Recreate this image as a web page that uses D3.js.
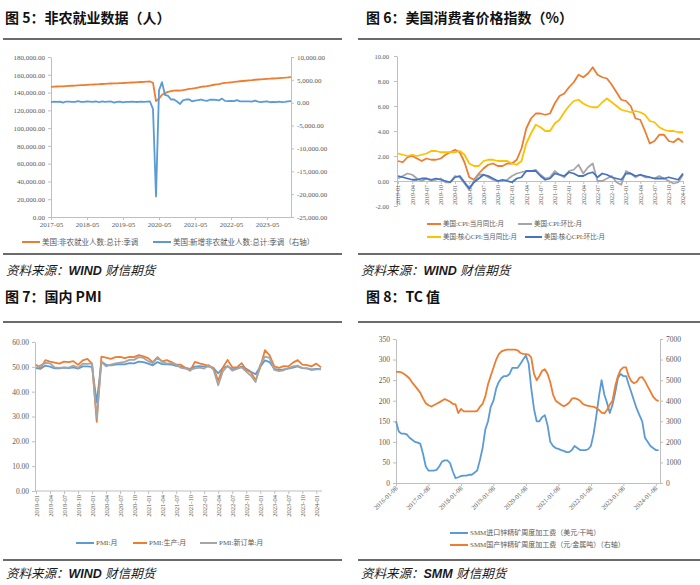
<!DOCTYPE html>
<html>
<head>
<meta charset="utf-8">
<script src="https://cdn.jsdelivr.net/npm/d3@7"></script>
<style>
body { margin: 0; background: #fff; }
svg text { font-family: "Liberation Serif", "Noto Sans CJK SC", serif; }
.title { font-family: "Noto Sans CJK SC", sans-serif; font-weight: bold; font-size: 14px; fill: #111; }
.legend { fill: #595959; }
</style>
</head>
<body>
<script>
(function(){

    // ---- 图5 非农 ----
    var nfpTicks = ["2017-05", "2018-05", "2019-05", "2020-05", "2021-05", "2022-05", "2023-05"];
    var payrolls = [
        146400, 146600, 146800, 147000, 147050, 147250, 147450, 147650,
        147850, 148100, 148300, 148450, 148700, 148900, 149050, 149300, 149400, 149600, 149750, 149950,
        150200, 150250, 150400, 150650, 150750, 150950, 151100, 151300, 151450, 151650, 151850, 151950,
        152200, 152450, 151050, 130450, 133100, 137600, 139300, 140800, 141500, 142200, 142450, 142200,
        142700, 143400, 144100, 144400, 144900, 145600, 146300, 146800, 147200, 147900, 148500, 149100,
        149500, 150300, 150800, 151100, 151500, 151900, 152400, 152700, 153000, 153300, 153600, 153900,
        154400, 154700, 154900, 155200, 155500, 155600, 155800, 156000, 156300, 156500, 156700, 157000,
        157400
    ];
    var newJobs = [
        150, 230, 190, 220, 20, 260, 220, 180,
        180, 330, 180, 170, 270, 240, 180, 280, 100, 280, 180, 230,
        270, 10, 190, 250, 80, 180, 170, 210, 190, 160, 250, 180,
        230, 270, -1400, -20500, 2700, 4500, 1700, 1500, 700, 700, 260, -270,
        500, 700, 750, 300, 450, 550, 700, 500, 400, 650, 650, 600,
        500, 900, 400, 350, 400, 350, 550, 300, 300, 300, 300, 250,
        450, 250, 150, 250, 300, 100, 200, 150, 250, 150, 200, 300,
        350
    ];

    // ---- 图6 CPI ----
    var cpiYoY = [
        1.6, 1.5, 1.9, 2.0, 1.8, 1.6, 1.8, 1.7, 1.7, 1.8, 2.1, 2.3,
        2.5, 2.3, 1.5, 0.3, 0.1, 0.6, 1.0, 1.3, 1.4, 1.2, 1.2, 1.4,
        1.4, 1.7, 2.6, 4.2, 5.0, 5.4, 5.4, 5.3, 5.4, 6.2, 6.8, 7.0,
        7.5, 7.9, 8.5, 8.3, 8.6, 9.1, 8.5, 8.3, 8.2, 7.7, 7.1, 6.5,
        6.4, 6.0, 5.0, 4.9, 4.0, 3.0, 3.2, 3.7, 3.7, 3.2, 3.1, 3.4,
        3.1
    ];
    var cpiMoM = [
        0.2, 0.4, 0.6, 0.5, 0.2, 0.0, 0.2, 0.0, 0.1, 0.2, -0.1, -0.1,
        0.4, 0.3, -0.2, -0.7, 0.0, 0.5, 0.5, 0.3, 0.1, 0.0, 0.0, 0.1,
        0.4, 0.6, 0.7, 0.8, 0.8, 0.9, 0.5, 0.2, 0.3, 0.8, 0.5, 0.3,
        0.8, 0.9, 1.3, 0.6, 1.1, 1.4, 0.0, 0.0, 0.2, 0.4, -0.1, -0.3,
        0.8, 0.6, 0.3, 0.5, 0.3, 0.3, 0.2, 0.4, 0.2, 0.0, -0.2, -0.1,
        0.5
    ];
    var coreYoY = [
        2.2, 2.1, 2.0, 2.1, 2.0, 2.1, 2.2, 2.4, 2.4, 2.3, 2.3, 2.3,
        2.3, 2.4, 2.1, 1.4, 1.2, 1.2, 1.6, 1.7, 1.7, 1.6, 1.6, 1.6,
        1.4, 1.3, 1.6, 3.0, 3.8, 4.5, 4.3, 4.0, 4.0, 4.6, 4.9, 5.5,
        6.0, 6.4, 6.5, 6.2, 6.0, 5.9, 5.9, 6.3, 6.6, 6.3, 6.0, 5.7,
        5.6, 5.5, 5.6, 5.5, 5.3, 4.8, 4.7, 4.3, 4.1, 4.0, 4.0, 3.9,
        3.9
    ];
    var coreMoM = [
        0.4, 0.3, 0.2, 0.1, 0.1, 0.2, 0.2, 0.1, 0.2, 0.1, 0.0, -0.1,
        0.3, 0.4, -0.1, -0.6, -0.1, 0.2, 0.5, 0.4, 0.2, 0.0, 0.1, 0.0,
        -0.1, 0.2, 0.3, 0.8, 0.8, 0.8, 0.4, 0.1, 0.2, 0.6, 0.5, 0.4,
        0.7, 0.6, 0.4, 0.4, 0.6, 0.7, 0.3, 0.6, 0.5, 0.3, 0.2, 0.1,
        0.6, 0.6, 0.4, 0.5, 0.4, 0.3, 0.2, 0.2, 0.2, 0.3, 0.2, 0.1,
        0.6
    ];

    // ---- 图7 PMI ----
    var pmi = [
        49.5, 49.2, 50.5, 50.1, 49.4, 49.4, 49.7, 49.5, 49.8, 49.3, 50.2, 50.2,
        50.0, 35.7, 52.0, 50.8, 50.6, 50.9, 51.1, 51.0, 51.5, 51.4, 52.1, 51.9,
        51.3, 50.6, 51.9, 51.1, 51.0, 50.9, 50.4, 50.1, 49.6, 49.2, 50.1, 50.3,
        50.1, 50.2, 49.5, 47.4, 49.6, 50.2, 49.0, 49.4, 50.1, 49.2, 48.0, 47.0,
        50.1, 52.6, 51.9, 49.2, 48.8, 49.0, 49.3, 49.7, 50.2, 49.5, 49.4, 49.0,
        49.2, 49.1
    ];
    var pmiProduction = [
        50.9, 49.5, 52.7, 52.1, 51.7, 51.3, 52.1, 51.9, 52.3, 50.8, 52.6, 53.2,
        51.3, 27.8, 54.1, 53.7, 53.2, 53.9, 54.0, 53.5, 54.0, 53.9, 54.7, 54.2,
        53.5, 51.9, 53.9, 52.2, 52.7, 51.9, 50.9, 50.9, 49.5, 48.4, 52.0, 51.4,
        50.9, 50.4, 49.5, 44.4, 49.7, 52.8, 49.8, 49.8, 51.5, 48.7, 47.8, 44.6,
        49.8, 56.7, 54.6, 50.2, 49.6, 50.3, 50.2, 51.7, 52.7, 50.9, 50.7, 50.2,
        51.3, 49.8
    ];
    var pmiNewOrders = [
        49.6, 50.6, 51.6, 51.4, 49.8, 49.6, 49.8, 49.7, 50.5, 49.6, 51.3, 51.2,
        51.4, 29.3, 52.0, 50.2, 50.9, 51.4, 51.7, 52.0, 52.8, 52.8, 53.9, 53.6,
        52.3, 51.5, 53.6, 52.0, 51.3, 51.5, 50.9, 49.6, 49.3, 48.8, 49.4, 49.7,
        49.3, 50.7, 48.8, 42.6, 48.2, 50.4, 48.5, 49.2, 49.8, 48.1, 46.4, 43.9,
        50.9, 54.1, 53.6, 48.8, 48.3, 48.6, 49.5, 50.2, 50.5, 49.5, 49.4, 48.7,
        49.0, 49.0
    ];

    // ---- 图8 TC ----
    var tcTicks = ["2016-01-08", "2017-01-08", "2018-01-08", "2019-01-08", "2020-01-08",
                   "2021-01-08", "2022-01-08", "2023-01-08", "2024-01-08"];
    var importTC = [
        150, 125, 120, 120, 118, 110, 105, 100, 98, 95, 70, 40,
        30, 30, 30, 32, 40, 52, 55, 55, 48, 28, 12, 14,
        17, 18, 18, 20, 20, 25, 30, 55, 85, 130, 150, 185,
        200, 230, 245, 255, 260, 260, 265, 280, 280, 280, 290, 300,
        310, 290, 230, 180, 150, 150, 160, 165, 140, 100, 90, 85,
        83, 80, 78, 75, 75, 80, 90, 85, 80, 80, 80, 82,
        90, 120, 160, 210, 250, 215, 195, 170, 190, 220, 255, 265,
        260, 260, 240, 220, 200, 180, 165, 150, 110, 100, 90, 85,
        80, 80
    ];
    var domesticTC = [
        5400, 5400, 5380, 5300, 5200, 5080, 4880, 4720, 4550, 4380, 4100, 3880,
        3780, 3720, 3780, 3850, 3920, 4000, 4080, 4020, 3950, 3850, 3820, 3400,
        3600, 3480, 3480, 3480, 3480, 3480, 3500, 3700, 3850, 4200, 4800, 5200,
        5600, 6000, 6250, 6400, 6450, 6480, 6480, 6480, 6480, 6450, 6320, 6280,
        6260, 6240, 6100, 5300, 5000, 5200, 5450, 5530, 5300, 4900, 4300, 4000,
        3900, 3800, 3730, 3800, 3900, 4100, 4130, 4080, 4000, 3850, 3780, 3750,
        3720, 3700, 3650, 3550, 3420, 3380, 3550, 3800, 4000, 4700, 5200, 5500,
        5620, 5620, 5200, 4950, 4850, 4920, 5120, 5150, 4950, 4700, 4450, 4200,
        4050, 3980
    ];

    var orange = "#ED7D31", blue = "#5B9BD5", gray = "#A5A5A5",
        yellow = "#FFC000", darkBlue = "#4472C4", axisColor = "#bfbfbf";

    var loc = d3.formatLocale({decimal: ".", thousands: ",", grouping: [3], currency: ["", ""], minus: "-"});
    var fmtComma2 = loc.format(",.2f"),
        fmtFixed2 = loc.format(".2f"),
        fmtInt = loc.format("d");

    var parseMonth = d3.timeParse("%Y-%m"),
        parseDay = d3.timeParse("%Y-%m-%d"),
        fmtMonth = d3.timeFormat("%Y-%m");

    function monthRange(start, count) {
        var s = parseMonth(start);
        return d3.range(count).map(function(i) {
            return fmtMonth(d3.timeMonth.offset(s, i));
        });
    }

    var svg = d3.select("body")
        .append("svg")
        .attr("width", 700)
        .attr("height", 585);

    window.onload = draw();

    function draw() {
        drawFrame(5, 3, 342, "图 5：非农就业数据（人）", 18, 39, 254, 270, "WIND");
        drawFrame(366, 358, 700, "图 6：美国消费者价格指数（%）", 18, 39, 254, 270, "WIND");
        drawFrame(5, 3, 342, "图 7：国内 PMI", 297, 322, 560, 573, "WIND");
        drawFrame(366, 358, 700, "图 8：TC 值", 297, 322, 560, 573, "SMM");

        drawPayrolls();
        drawCpi();
        drawPmi();
        drawTc();
    }

    function drawFrame(tx, x1, x2, title, ty, rule1, rule2, sy, src) {
        svg.append("text")
            .attr("class", "title")
            .attr("x", tx)
            .attr("y", ty + 5)
            .text(title);

        [rule1, rule2].forEach(function(ry) {
            svg.append("line")
                .attr("x1", x1).attr("x2", x2)
                .attr("y1", ry).attr("y2", ry)
                .attr("stroke", "#3a3a3a")
                .attr("stroke-width", 1.5);
        });

        var t = svg.append("text")
            .attr("x", x1 + 3)
            .attr("y", sy + 5)
            .style("font-size", "12.5px")
            .attr("fill", "#1a1a1a");
        t.append("tspan")
            .style("font-family", "'Noto Sans CJK SC', sans-serif")
            .style("font-style", "italic")
            .text("资料来源：");
        t.append("tspan")
            .style("font-family", "'Liberation Sans', sans-serif")
            .style("font-style", "italic")
            .style("font-weight", "bold")
            .text(src + " ");
        t.append("tspan")
            .style("font-family", "'Noto Sans CJK SC', sans-serif")
            .style("font-style", "italic")
            .text("财信期货");
    }

    function styleAxis(g, size) {
        g.select(".domain").attr("stroke", axisColor);
        g.selectAll(".tick line").attr("stroke", axisColor);
        g.selectAll(".tick text")
            .attr("fill", "#595959")
            .style("font-size", size + "px");
    }

    function legendItem(x, y, len, color, label, size) {
        svg.append("line")
            .attr("x1", x).attr("x2", x + len)
            .attr("y1", y).attr("y2", y)
            .attr("stroke", color)
            .attr("stroke-width", 2);
        svg.append("text")
            .attr("class", "legend")
            .attr("x", x + len + 2)
            .attr("y", y)
            .attr("dy", "0.35em")
            .style("font-size", size + "px")
            .text(label);
    }

    function addLine(values, x, cats, y, color) {
        var line = d3.line()
            .x(function(d, i) { return x(cats[i]); })
            .y(function(d) { return y(d); });
        svg.append("path")
            .datum(values)
            .attr("fill", "none")
            .attr("stroke", color)
            .attr("stroke-width", 1.8)
            .attr("stroke-linejoin", "round")
            .attr("d", line);
    }

    function drawPayrolls() {
        var left = 51, right = 291, top = 57, bottom = 217;
        var months = monthRange("2017-05", payrolls.length);

        var x = d3.scalePoint().domain(months).range([left, right]);
        var yL = d3.scaleLinear().domain([0, 180000]).range([bottom, top]);
        var yR = d3.scaleLinear().domain([-25000, 10000]).range([bottom, top]);

        var gx = svg.append("g")
            .attr("transform", "translate(0," + bottom + ")")
            .call(d3.axisBottom(x).tickValues(nfpTicks).tickSize(3).tickSizeOuter(0).tickPadding(2));
        styleAxis(gx, 7);

        var gl = svg.append("g")
            .attr("transform", "translate(" + left + ",0)")
            .call(d3.axisLeft(yL).tickValues(d3.range(0, 180001, 20000)).tickFormat(fmtComma2)
                .tickSize(3).tickSizeOuter(0).tickPadding(3));
        styleAxis(gl, 7);

        var gr = svg.append("g")
            .attr("transform", "translate(" + right + ",0)")
            .call(d3.axisRight(yR).tickValues(d3.range(-25000, 10001, 5000)).tickFormat(fmtComma2)
                .tickSize(3).tickSizeOuter(0).tickPadding(3));
        styleAxis(gr, 7);

        addLine(payrolls, x, months, yL, orange);
        addLine(newJobs, x, months, yR, blue);

        legendItem(22, 242, 18, orange, "美国:非农就业人数:总计:季调", 7.5);
        legendItem(153, 242, 18, blue, "美国:新增非农就业人数:总计:季调（右轴）", 7.5);
    }

    function drawCpi() {
        var left = 397, right = 683, top = 56, bottom = 206;
        var months = monthRange("2019-01", cpiYoY.length);
        var ticks = months.filter(function(d, i) { return i % 3 === 0; });

        var x = d3.scalePoint().domain(months).range([left + 1, right]);
        var y = d3.scaleLinear().domain([-2, 10]).range([bottom, top]);

        var gl = svg.append("g")
            .attr("transform", "translate(" + left + ",0)")
            .call(d3.axisLeft(y).tickValues(d3.range(-2, 10.1, 2)).tickFormat(fmtFixed2)
                .tickSize(3).tickSizeOuter(0).tickPadding(5));
        styleAxis(gl, 6.5);

        var gx = svg.append("g")
            .attr("transform", "translate(0," + y(0) + ")")
            .call(d3.axisBottom(x).tickValues(ticks).tickSize(3).tickSizeOuter(0));
        styleAxis(gx, 6);
        gx.selectAll(".tick text")
            .attr("x", -4)
            .attr("y", 0)
            .attr("dy", "0.32em")
            .attr("transform", "rotate(-90)")
            .style("text-anchor", "end");

        addLine(cpiYoY, x, months, y, orange);
        addLine(cpiMoM, x, months, y, gray);
        addLine(coreYoY, x, months, y, yellow);
        addLine(coreMoM, x, months, y, darkBlue);

        legendItem(427, 224, 14, orange, "美国:CPI:当月同比:月", 6.5);
        legendItem(518, 224, 14, gray, "美国:CPI:环比:月", 6.5);
        legendItem(427, 237, 14, yellow, "美国:核心CPI:当月同比:月", 6.5);
        legendItem(525, 237, 17, darkBlue, "美国:核心CPI:环比:月", 6.5);
    }

    function drawPmi() {
        var left = 35, right = 322, top = 342, bottom = 491;
        var months = monthRange("2019-01", pmi.length);
        var ticks = months.filter(function(d, i) { return i % 3 === 0 && i <= 60; });

        var x = d3.scalePoint().domain(months).range([36, 321]);
        var y = d3.scaleLinear().domain([0, 60]).range([bottom, top]);

        var gl = svg.append("g")
            .attr("transform", "translate(" + left + ",0)")
            .call(d3.axisLeft(y).tickValues(d3.range(0, 60.1, 10)).tickFormat(fmtFixed2)
                .tickSize(3).tickSizeOuter(0).tickPadding(3));
        styleAxis(gl, 7.5);

        var gx = svg.append("g")
            .attr("transform", "translate(0," + bottom + ")")
            .call(d3.axisBottom(x).tickValues(ticks).tickSize(3).tickSizeOuter(0));
        gx.select(".domain").attr("d", "M" + left + ",0H" + right);
        styleAxis(gx, 6.5);
        gx.selectAll(".tick text")
            .attr("x", -4)
            .attr("y", 0)
            .attr("dy", "0.32em")
            .attr("transform", "rotate(-90)")
            .style("text-anchor", "end");

        addLine(pmi, x, months, y, blue);
        addLine(pmiProduction, x, months, y, orange);
        addLine(pmiNewOrders, x, months, y, gray);

        legendItem(76, 543, 18, blue, "PMI:月", 7);
        legendItem(133, 543, 14, orange, "PMI:生产:月", 7);
        legendItem(200, 543, 17, gray, "PMI:新订单:月", 7);
    }

    function drawTc() {
        var left = 396, right = 660, top = 339, bottom = 483;
        var dates = d3.range(importTC.length).map(function(i) {
            return d3.timeMonth.offset(parseDay("2016-01-08"), i);
        });
        var tickDates = tcTicks.map(parseDay);

        var x = d3.scaleTime()
            .domain([parseDay("2016-01-08"), parseDay("2024-02-24")])
            .range([left, right]);
        var yL = d3.scaleLinear().domain([0, 350]).range([bottom, top]);
        var yR = d3.scaleLinear().domain([0, 7000]).range([bottom, top]);

        var gl = svg.append("g")
            .attr("transform", "translate(" + left + ",0)")
            .call(d3.axisLeft(yL).tickValues(d3.range(0, 351, 50)).tickFormat(fmtInt)
                .tickSize(3).tickSizeOuter(0).tickPadding(3));
        styleAxis(gl, 7.5);

        var gr = svg.append("g")
            .attr("transform", "translate(" + right + ",0)")
            .call(d3.axisRight(yR).tickValues(d3.range(0, 7001, 1000)).tickFormat(fmtInt)
                .tickSize(3).tickSizeOuter(0).tickPadding(3));
        styleAxis(gr, 7.5);

        var gx = svg.append("g")
            .attr("transform", "translate(0," + bottom + ")")
            .call(d3.axisBottom(x).tickValues(tickDates).tickFormat(d3.timeFormat("%Y-%m-%d"))
                .tickSize(3).tickSizeOuter(0));
        styleAxis(gx, 6.5);
        gx.selectAll(".tick text")
            .attr("x", -3)
            .attr("y", 3)
            .attr("dy", "0.32em")
            .attr("transform", "rotate(-45)")
            .style("text-anchor", "end");

        addLine(importTC, x, dates, yL, blue);
        addLine(domesticTC, x, dates, yR, orange);

        legendItem(450, 533, 18, blue, "SMM进口锌精矿周度加工费（美元/干吨）", 7);
        legendItem(450, 545, 18, orange, "SMM国产锌精矿周度加工费（元/金属吨）（右轴）", 7);
    }

})();
</script>
</body>
</html>
